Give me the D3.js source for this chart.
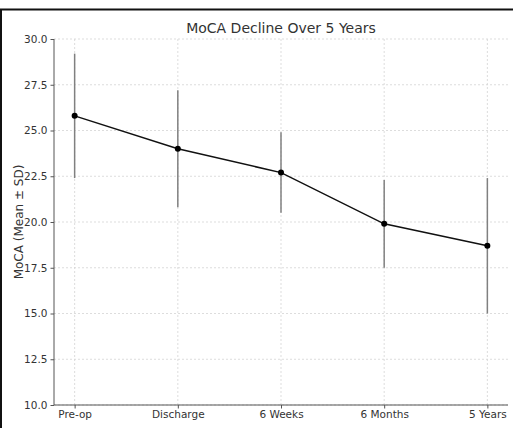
<!DOCTYPE html>
<html>
<head>
<meta charset="utf-8">
<script src="https://cdn.jsdelivr.net/npm/d3@7"></script>
<style>
  html, body { margin: 0; padding: 0; background: #fff; }
  svg { display: block; }
</style>
</head>
<body>
<svg id="chart" width="513" height="428"></svg>
<script>
const categories = ['Pre-op', 'Discharge', '6 Weeks', '6 Months', '5 Years'];
const means = [25.8, 24.0, 22.7, 19.9, 18.7];
const sds = [3.4, 3.2, 2.2, 2.4, 3.7];
const yTicks = [10, 12.5, 15, 17.5, 20, 22.5, 25, 27.5, 30];

const svg = d3.select('#chart');
const font = 'DejaVu Sans, sans-serif';

// plot box
const plot = { left: 54, right: 508, top: 39, bottom: 405 };

const x = d3.scalePoint().domain(categories).range([plot.left, plot.right]).padding(0.2);
const y = d3.scaleLinear().domain([10, 30]).range([plot.bottom, plot.top]);

// frame of the screenshot
svg.append('line').attr('x1', 0).attr('x2', 513).attr('y1', 9.5).attr('y2', 9.5)
  .attr('stroke', '#111').attr('stroke-width', 2);
svg.append('line').attr('x1', 1).attr('x2', 1).attr('y1', 9).attr('y2', 428)
  .attr('stroke', '#111').attr('stroke-width', 2);

// grid
const grid = svg.append('g').attr('stroke', '#d4d4d4').attr('stroke-width', 0.8)
  .attr('stroke-dasharray', '2,2');
grid.selectAll('.gy').data(yTicks).join('line')
  .attr('x1', plot.left).attr('x2', plot.right)
  .attr('y1', d => y(d)).attr('y2', d => y(d));
grid.selectAll('.gx').data(categories).join('line')
  .attr('x1', d => x(d)).attr('x2', d => x(d))
  .attr('y1', plot.top).attr('y2', plot.bottom);

// axes
const yAxis = svg.append('g').attr('transform', `translate(${plot.left},0)`)
  .call(d3.axisLeft(y).tickValues(yTicks).tickFormat(d3.format('.1f')).tickSize(3.5).tickPadding(3));
const xAxis = svg.append('g').attr('transform', `translate(0,${plot.bottom})`)
  .call(d3.axisBottom(x).tickSize(3.5).tickPadding(2));

[yAxis, xAxis].forEach(a => {
  a.select('.domain').attr('stroke', '#555').attr('stroke-width', 1);
  a.selectAll('.tick line').attr('stroke', '#555');
  a.selectAll('.tick text').attr('fill', '#333').style('font-family', font).style('font-size', '10.5px');
});
yAxis.select('.domain').attr('d', `M0,${plot.top}V${plot.bottom}`);
xAxis.select('.domain').attr('d', `M${plot.left},0H${plot.right}`);

// error bars
svg.append('g').selectAll('line').data(categories).join('line')
  .attr('x1', d => x(d)).attr('x2', d => x(d))
  .attr('y1', (d, i) => y(means[i] - sds[i]))
  .attr('y2', (d, i) => y(means[i] + sds[i]))
  .attr('stroke', '#808080').attr('stroke-width', 1.5);

// mean line
const line = d3.line().x((d, i) => x(categories[i])).y(d => y(d));
svg.append('path').datum(means).attr('d', line)
  .attr('fill', 'none').attr('stroke', '#111').attr('stroke-width', 1.5);

svg.append('g').selectAll('circle').data(means).join('circle')
  .attr('cx', (d, i) => x(categories[i])).attr('cy', d => y(d))
  .attr('r', 3).attr('fill', '#000');

// title and label
svg.append('text').attr('x', (plot.left + plot.right) / 2).attr('y', 33)
  .attr('text-anchor', 'middle').attr('fill', '#333')
  .style('font-family', font).style('font-size', '14px')
  .text('MoCA Decline Over 5 Years');

svg.append('text')
  .attr('transform', `translate(22.5,${(plot.top + plot.bottom) / 2}) rotate(-90)`)
  .attr('text-anchor', 'middle').attr('fill', '#333')
  .style('font-family', font).style('font-size', '12px')
  .text('MoCA (Mean ± SD)');
</script>
</body>
</html>
